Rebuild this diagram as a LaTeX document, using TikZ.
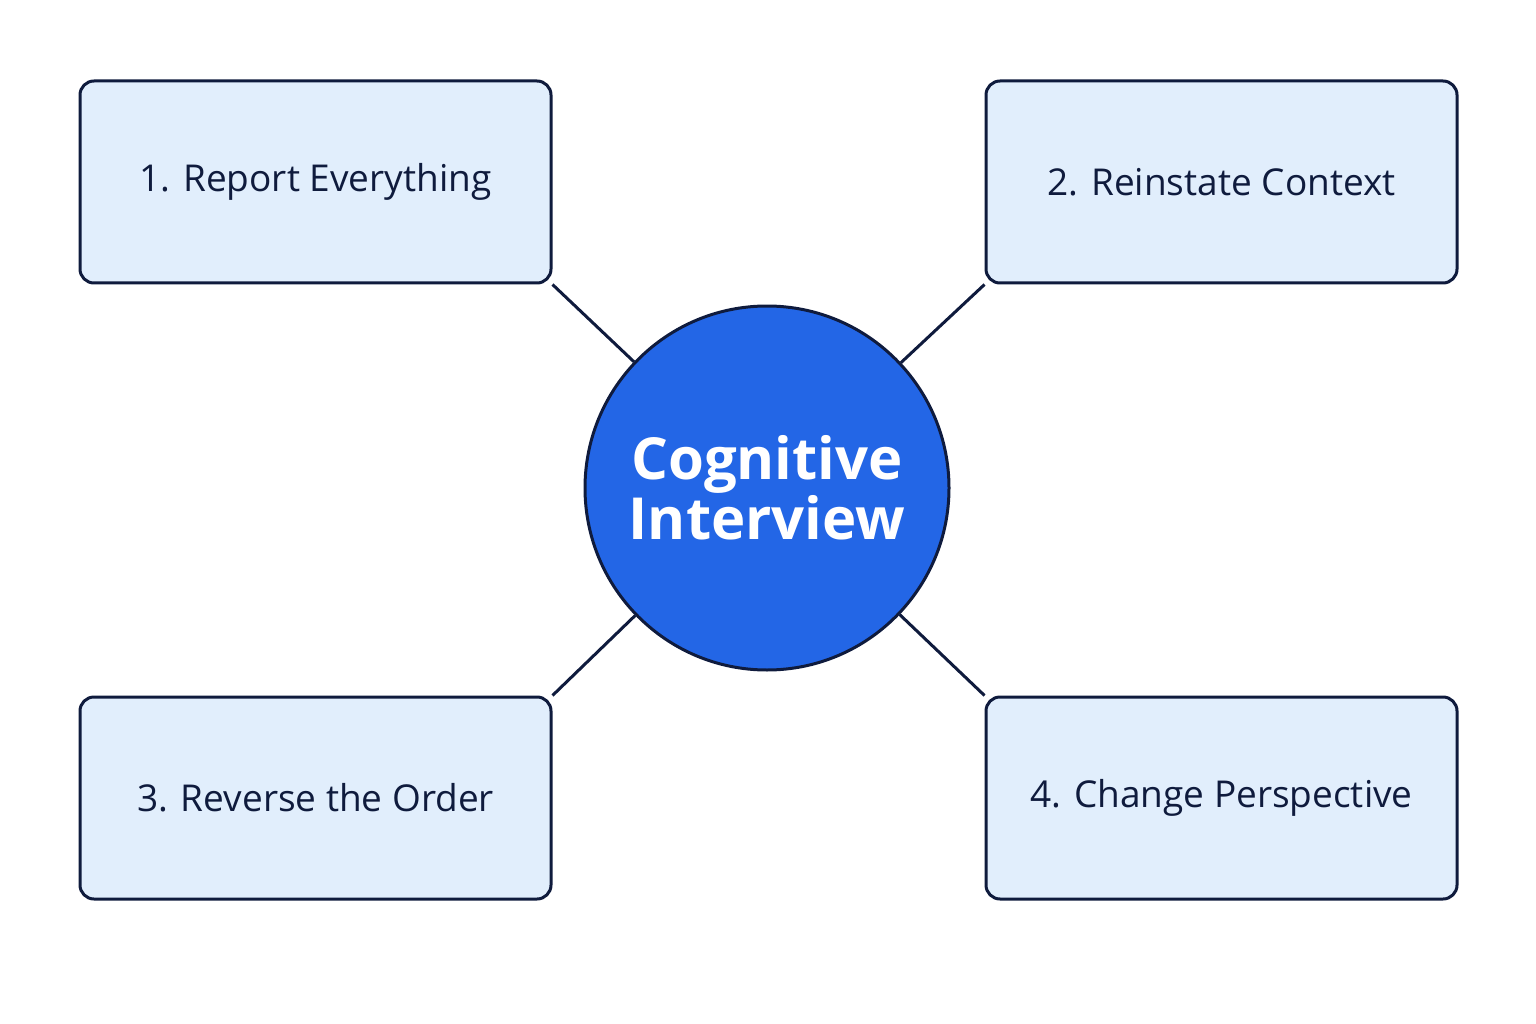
\documentclass[tikz,border=0pt]{standalone}
\usepackage{fontspec}
\setmainfont{Open Sans}
\usetikzlibrary{backgrounds}
\definecolor{navy}{HTML}{0F1B3D}
\definecolor{boxfill}{HTML}{E1EEFC}
\definecolor{cblue}{HTML}{2366E6}
\begin{document}
\begin{tikzpicture}[x=1pt,y=-1pt,
  item/.style={draw=navy,line width=3pt,fill=boxfill,rounded corners=14pt,minimum width=471pt,minimum height=202pt,inner sep=0pt,font=\fontsize{37}{44}\selectfont,text=navy},
  hub/.style={circle,draw=navy,line width=3pt,fill=cblue,minimum size=364pt,inner sep=0pt,text=white,align=center,font=\fontsize{58}{64}\selectfont\bfseries},
  link/.style={draw=navy,line width=3pt}]
\useasboundingbox (0,0) rectangle (1536,1024);
\node[hub] (c) at (767,488) {Cognitive\\[-4pt]Interview};
\node[item] (b1) at (315.5,182) {1. Report Everything};
\node[item] (b2) at (1221.5,182) {2. Reinstate Context};
\node[item] (b3) at (315.5,798) {3. Reverse the Order};
\node[item] (b4) at (1221.5,798) {4. Change Perspective};
\begin{scope}[on background layer]
\draw[link] (c) -- (b1.south east);
\draw[link] (c) -- (b2.south west);
\draw[link] (c) -- (b3.north east);
\draw[link] (c) -- (b4.north west);
\end{scope}
\end{tikzpicture}
\end{document}
